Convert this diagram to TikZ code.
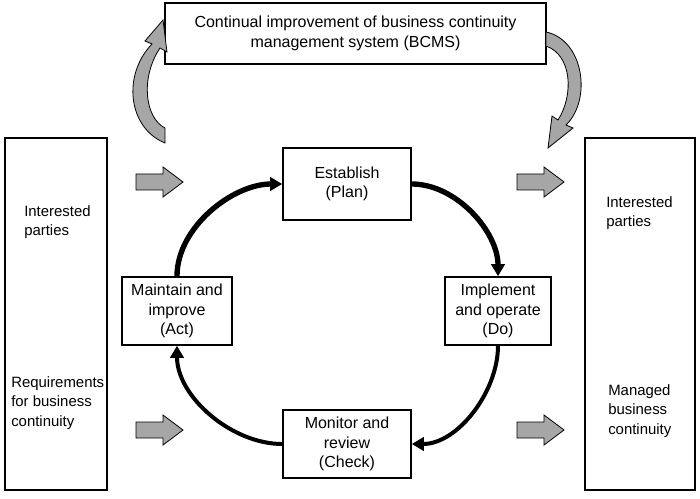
\documentclass[tikz,border=0pt]{standalone}
\usepackage{fontspec}
\setmainfont{Liberation Sans}
\usetikzlibrary{arrows.meta}
\tikzset{
  box/.style={draw,line width=1.2pt,align=center,font=\fontsize{12}{14.5}\selectfont,inner sep=0pt},
  lbl/.style={align=left,font=\fontsize{11.2}{14.5}\selectfont,anchor=west,inner sep=0pt},
  fat/.style={draw,fill=gray!70,line width=0.6pt},
  cyc/.style={-{Triangle[length=9pt,width=10pt]},line width=4pt},
  curl/.style={draw,fill=gray!70,line width=0.6pt}
}
\newcommand{\fatarrow}[1]{%
  \path[fat,shift={(#1)}] (-23,-8) -- (4,-8) -- (4,-15) -- (24,0) -- (4,15) -- (4,8) -- (-23,8) -- cycle;}
\begin{document}
\begin{tikzpicture}[x=0.75pt,y=-0.75pt]
  \useasboundingbox (0,0) rectangle (700,499);
  % outer boxes
  \node[box,minimum width=381*0.75pt,minimum height=61*0.75pt] (bcms) at (355.5,33.5)
    {Continual improvement of business continuity\\management system (BCMS)};
  \node[box,minimum width=102*0.75pt,minimum height=352*0.75pt] (left) at (56,314) {};
  \node[box,minimum width=110*0.75pt,minimum height=352*0.75pt] (right) at (640,314) {};
  \node[lbl] (in1) at (24,222) {Interested\\parties};
  \node[lbl] (req) at (11,403) {Requirements\\for business\\continuity};
  \node[lbl] (in2) at (606,213) {Interested\\parties};
  \node[lbl] (mbc) at (608,411) {Managed\\business\\continuity};
  % PDCA boxes
  \node[box,minimum width=128*0.75pt,minimum height=72*0.75pt] (plan) at (347,184) {Establish\\(Plan)};
  \node[box,minimum width=106*0.75pt,minimum height=68*0.75pt] (do) at (498,311) {Implement\\and operate\\(Do)};
  \node[box,minimum width=128*0.75pt,minimum height=68*0.75pt] (check) at (347,444) {Monitor and\\review\\(Check)};
  \node[box,minimum width=110*0.75pt,minimum height=68*0.75pt] (act) at (177,311) {Maintain and\\improve\\(Act)};
  % cycle
  \draw[cyc] (plan.east) to[out=0,in=90,looseness=0.9] (do.north);
  \draw[cyc,line width=3pt] (do.south) to[out=-90,in=0,looseness=0.9] (check.east);
  \draw[cyc,line width=3pt] (check.west) to[out=180,in=-90,looseness=0.9] (act.south);
  \draw[cyc] (act.north) to[out=90,in=180,looseness=0.9] (plan.west);
  % gray arrows
  \fatarrow{159,182}
  \fatarrow{159,430}
  \fatarrow{540,182}
  \fatarrow{540,430}
  % curled arrows
  \path[curl] (165,143) .. controls (128,128) and (122,75) .. (152,44) -- (145,41)
    -- (163,20) -- (167,52) -- (160,48) .. controls (140,78) and (145,118) .. (165,128) -- cycle;
  \path[curl] (546,32) .. controls (584,40) and (592,100) .. (566,125) -- (573,128)
    -- (548,148) -- (552,116) -- (558,120) .. controls (574,95) and (572,55) .. (546,46) -- cycle;
\end{tikzpicture}
\end{document}
